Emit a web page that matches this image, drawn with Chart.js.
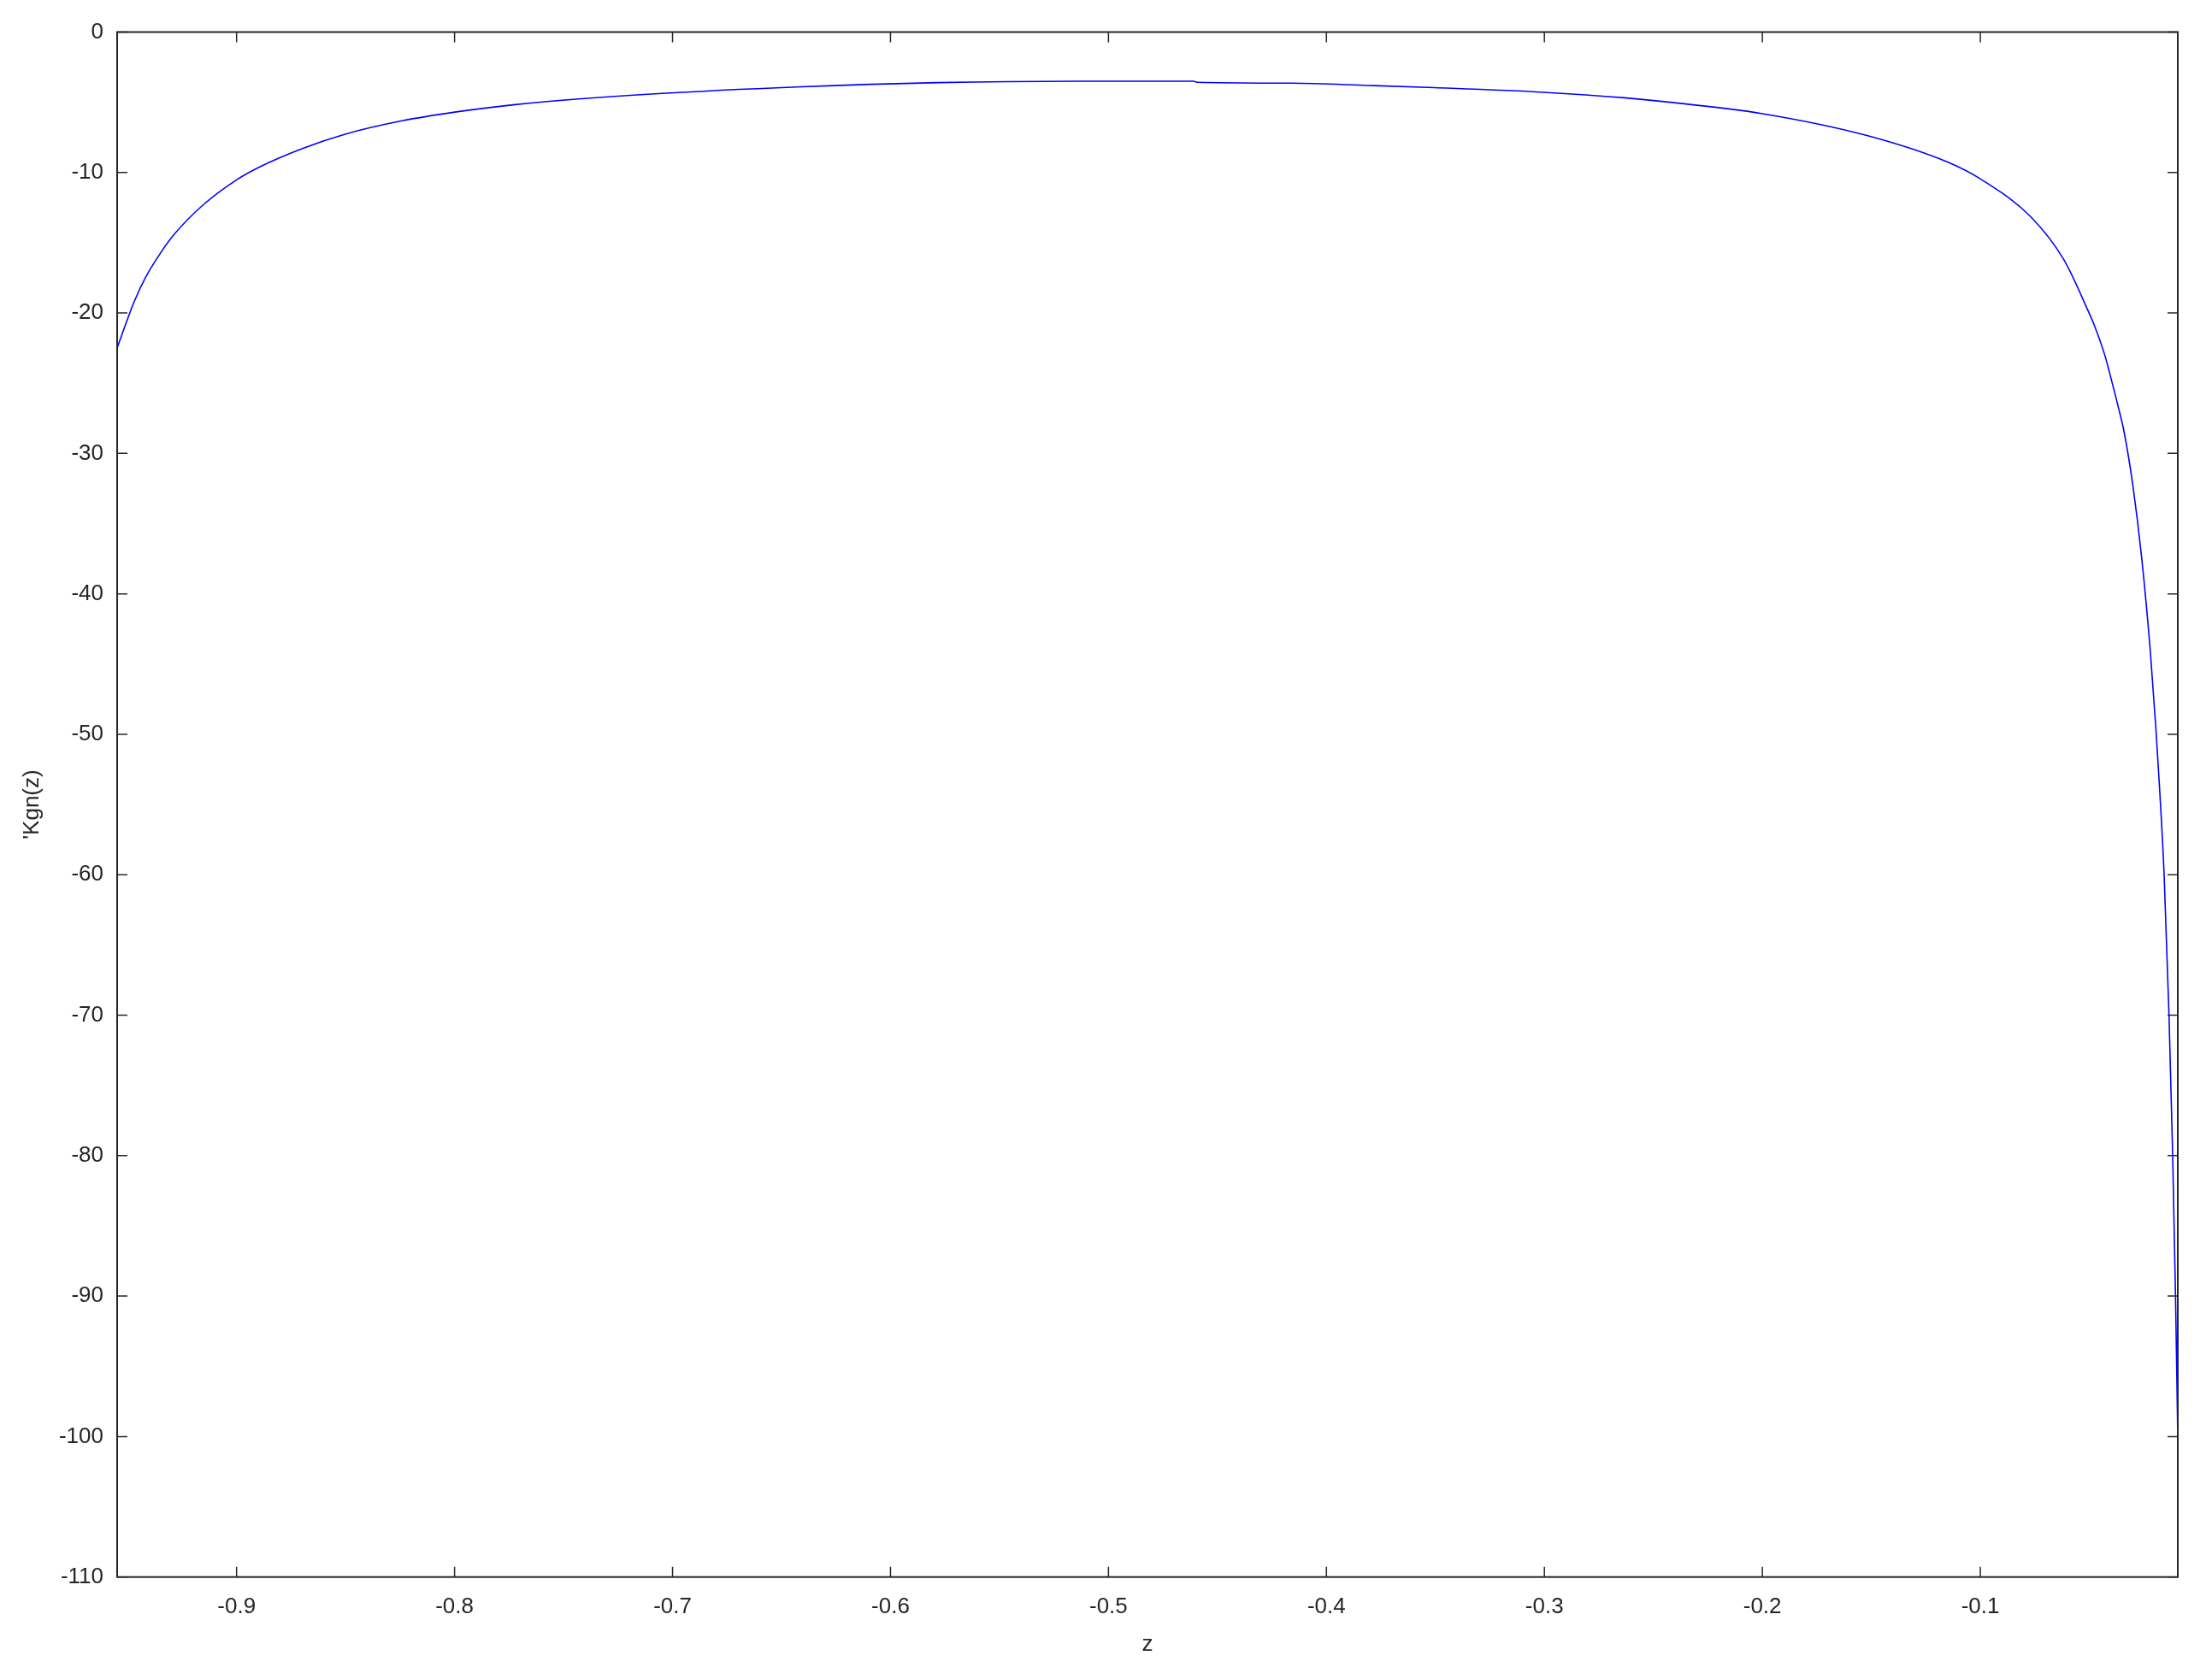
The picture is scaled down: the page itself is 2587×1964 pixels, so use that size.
<!DOCTYPE html>
<html>
<head>
<meta charset="utf-8">
<script src="https://cdn.jsdelivr.net/npm/chart.js@4.4.1/dist/chart.umd.min.js"></script>
<style>
  html, body { margin: 0; padding: 0; background: #ffffff; }
  #grafico { width: 2587px; height: 1964px; }
</style>
</head>
<body>
<div id="grafico"><canvas id="myChart" width="2587" height="1964"></canvas></div>
<script>
// valores
let zValores = [-0.9548, -0.9509, -0.947, -0.9417, -0.9352, -0.9286, -0.9156, -0.9, -0.8894, -0.8698,
  -0.8502, -0.8241, -0.7999, -0.7731, -0.7587, -0.7082, -0.6431, -0.578, -0.513, -0.461,
  -0.459, -0.4155, -0.381, -0.3504, -0.3003, -0.2633, -0.246, -0.2, -0.152, -0.1144,
  -0.0993, -0.0768, -0.0617, -0.0504, -0.0474, -0.0429, -0.0408, -0.0367, -0.034, -0.03,
  -0.026, -0.022, -0.0194, -0.0177, -0.01567, -0.01343, -0.01175, -0.01044, -0.0094]
let kgnValores = [-22.5, -20.8, -19.2, -17.45, -15.8, -14.4, -12.34, -10.52, -9.6, -8.29,
  -7.27, -6.32, -5.7, -5.18, -4.96, -4.4, -3.91, -3.6, -3.5, -3.5,
  -3.58, -3.64, -3.8, -3.96, -4.29, -4.68, -4.94, -5.81, -7.37, -9.3,
  -10.52, -13.16, -16.2, -19.9, -21.0, -23.0, -24.2, -26.7, -28.5, -32.3,
  -37.4, -44.1, -49.7, -54.0, -60.0, -70.0, -80.0, -90.0, -100.2]
let xTicks = [-0.9, -0.8, -0.7, -0.6, -0.5, -0.4, -0.3, -0.2, -0.1]
let yTicks = [0, -10, -20, -30, -40, -50, -60, -70, -80, -90, -100, -110]
let xMin = -0.9548, xMax = -0.0094
let yMin = -110, yMax = 0

let puntos = zValores.map((z, j) => ({x: z, y: kgnValores[j]}))
let colorTexto = '#262626'
let fuente = {family: "'Liberation Sans', Arial, sans-serif", size: 26}

// marco y marcas hacia dentro en los cuatro lados
const marcoPlugin = {
  id: 'marco',
  afterDraw(chart) {
    const ctx = chart.ctx
    const a = chart.chartArea
    const sx = chart.scales.x, sy = chart.scales.y
    const largo = 12
    ctx.save()
    ctx.strokeStyle = colorTexto
    ctx.lineWidth = 1.5
    ctx.beginPath()
    sx.ticks.forEach(t => {
      const px = sx.getPixelForValue(t.value)
      ctx.moveTo(px, a.bottom); ctx.lineTo(px, a.bottom - largo)
      ctx.moveTo(px, a.top); ctx.lineTo(px, a.top + largo)
    })
    sy.ticks.forEach(t => {
      const py = sy.getPixelForValue(t.value)
      ctx.moveTo(a.left, py); ctx.lineTo(a.left + largo, py)
      ctx.moveTo(a.right, py); ctx.lineTo(a.right - largo, py)
    })
    ctx.stroke()
    ctx.lineWidth = 2
    ctx.strokeRect(a.left, a.top, a.right - a.left, a.bottom - a.top)
    ctx.restore()
  }
}

const config = {
  type: 'scatter',
  data: {
    datasets: [{
      label: "'Kgn(z)",
      data: puntos,
      showLine: true,
      borderColor: '#0000ff',
      borderWidth: 1.6,
      pointRadius: 0,
      cubicInterpolationMode: 'monotone',
      fill: false
    }]
  },
  options: {
    responsive: false,
    devicePixelRatio: 1,
    animation: false,
    layout: { padding: {left: 0, right: 40, top: 37.5, bottom: 0} },
    plugins: {
      legend: { display: false },
      tooltip: { enabled: false }
    },
    scales: {
      x: {
        type: 'linear',
        min: xMin,
        max: xMax,
        grid: { display: false, drawTicks: false },
        border: { display: false },
        afterBuildTicks: scale => { scale.ticks = xTicks.map(v => ({value: v})) },
        afterFit: scale => { scale.height = 119.3 },
        ticks: {
          color: colorTexto,
          font: fuente,
          padding: 20,
          maxRotation: 0,
          callback: v => v.toFixed(1)
        },
        title: {
          display: true,
          text: 'z',
          color: colorTexto,
          font: fuente,
          padding: {top: 0, bottom: 25}
        }
      },
      y: {
        type: 'linear',
        min: yMin,
        max: yMax,
        grid: { display: false, drawTicks: false },
        border: { display: false },
        afterBuildTicks: scale => { scale.ticks = yTicks.map(v => ({value: v})) },
        afterFit: scale => { scale.width = 137 },
        ticks: {
          color: colorTexto,
          font: fuente,
          padding: 16,
          callback: v => String(v)
        },
        title: {
          display: true,
          text: "'Kgn(z)",
          color: colorTexto,
          font: fuente,
          padding: {top: 22, bottom: 0}
        }
      }
    }
  },
  plugins: [marcoPlugin]
}

const myChart = new Chart(document.getElementById('myChart'), config)
</script>
</body>
</html>
